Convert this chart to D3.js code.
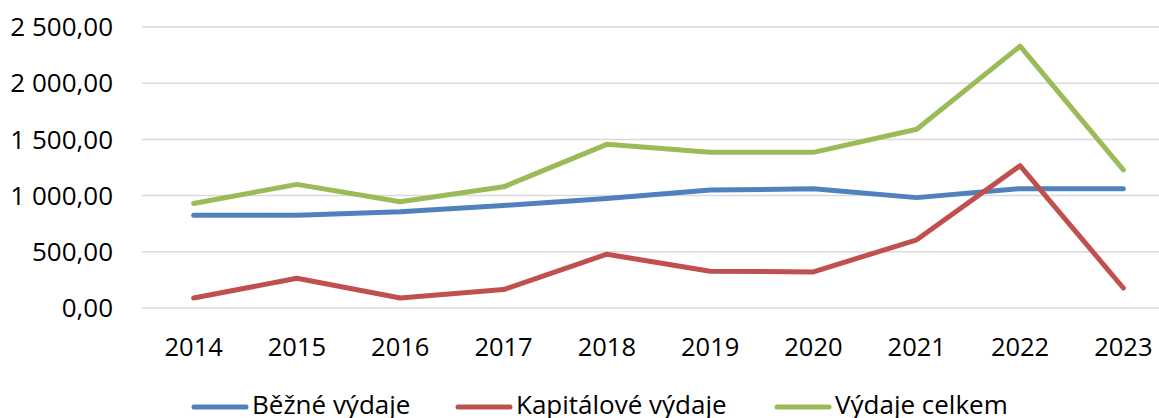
<!DOCTYPE html>
<html>
<head>
<meta charset="utf-8">
<script src="https://cdn.jsdelivr.net/npm/d3@7"></script>
<style>
  body { margin: 0; background: #fff; }
  svg { display: block; font-family: "Open Sans", sans-serif; }
</style>
</head>
<body>
<div id="chart"></div>
<script>
// data
const years = ['2014', '2015', '2016', '2017', '2018', '2019', '2020', '2021', '2022', '2023'];
const bezne = [826, 826, 856, 912, 975, 1049, 1061, 982, 1062, 1062];
const kapitalove = [89, 264, 89, 164, 479, 327, 321, 607, 1266, 178];
const celkem = [930, 1100, 945, 1078, 1456, 1385, 1385, 1590, 2329, 1228];
const yTicks = [0, 500, 1000, 1500, 2000, 2500];

const seriesNames = ['Běžné výdaje', 'Kapitálové výdaje', 'Výdaje celkem'];
const colors = ['#4f81bd', '#c0504d', '#9bbb59'];

const width = 1159, height = 418;
const margin = {top: 27, left: 142, bottom: 110, right: -16};

const svg = d3.select('#chart').append('svg')
    .attr('width', width)
    .attr('height', height);

// scales
const x = d3.scaleBand()
    .domain(years)
    .range([margin.left, width - margin.right]);
const y = d3.scaleLinear()
    .domain([0, 2500])
    .range([height - margin.bottom, margin.top]);

// gridlines
svg.append('g').selectAll('line')
    .data(yTicks)
    .join('line')
    .attr('x1', margin.left)
    .attr('x2', width - margin.right)
    .attr('y1', d => y(d))
    .attr('y2', d => y(d))
    .attr('stroke', '#d9d9d9')
    .attr('stroke-width', 1.5);

// y axis labels
const fmt = d => d3.format(',.2f')(d).replace(/,/g, ' ').replace('.', ',');
svg.append('g').selectAll('text')
    .data(yTicks)
    .join('text')
    .attr('x', 113)
    .attr('y', d => y(d))
    .attr('dy', '0.35em')
    .attr('text-anchor', 'end')
    .attr('font-size', 26)
    .attr('fill', '#000')
    .text(fmt);

// x axis labels
svg.append('g').selectAll('text')
    .data(years)
    .join('text')
    .attr('x', d => x(d) + x.bandwidth() / 2)
    .attr('y', 356)
    .attr('text-anchor', 'middle')
    .attr('font-size', 25.5)
    .attr('fill', '#000')
    .text(d => d);

// lines
const line = d3.line()
    .x((d, i) => x(years[i]) + x.bandwidth() / 2)
    .y(d => y(d));

svg.append('g').selectAll('path')
    .data([bezne, kapitalove, celkem])
    .join('path')
    .attr('d', line)
    .attr('fill', 'none')
    .attr('stroke', (d, i) => colors[i])
    .attr('stroke-width', 5)
    .attr('stroke-linejoin', 'round')
    .attr('stroke-linecap', 'round');

// legend
const legendX = [194, 458, 777];
const legend = svg.append('g').selectAll('g')
    .data(seriesNames)
    .join('g')
    .attr('transform', (d, i) => `translate(${legendX[i]},407)`);
legend.append('line')
    .attr('x1', 0).attr('x2', 52)
    .attr('stroke', (d, i) => colors[i])
    .attr('stroke-width', 5)
    .attr('stroke-linecap', 'round');
legend.append('text')
    .attr('x', 58)
    .attr('y', 7)
    .attr('font-size', 26)
    .attr('fill', '#000')
    .text(d => d);
</script>
</body>
</html>
